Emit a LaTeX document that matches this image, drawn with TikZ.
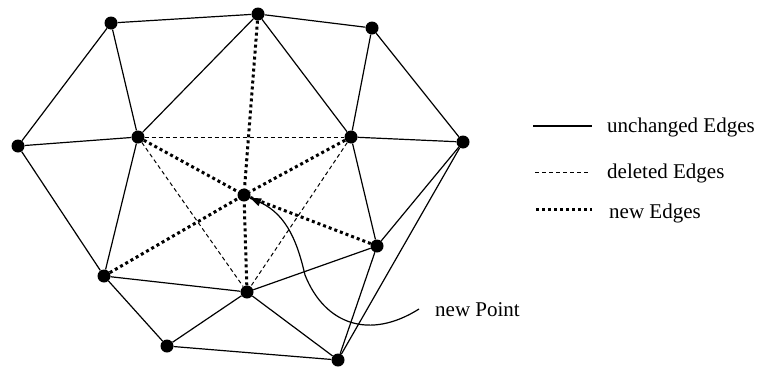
\documentclass[tikz,border=0pt]{standalone}
\usepackage{fontspec}
\setmainfont{Liberation Serif}
\usetikzlibrary{arrows.meta}
\begin{document}
\begin{tikzpicture}[x=1pt,y=-1pt,
  pt/.style={circle,fill=black,inner sep=0pt,minimum size=13pt},
  old/.style={line width=1.2pt},
  del/.style={line width=1pt,dash pattern=on 4pt off 3pt},
  new/.style={line width=3pt,dash pattern=on 3pt off 3pt},
  lbl/.style={font=\fontsize{21}{25}\selectfont,inner sep=0pt,anchor=mid west}]
\useasboundingbox (0,0) rectangle (760,367);
\node[pt] (A) at (111,23) {};
\node[pt] (B) at (258,14) {};
\node[pt] (C) at (372,28) {};
\node[pt] (D) at (18,146) {};
\node[pt] (E) at (138,137) {};
\node[pt] (F) at (351,137) {};
\node[pt] (G) at (463,142) {};
\node[pt] (P) at (244,195) {};
\node[pt] (H) at (377,246) {};
\node[pt] (I) at (104,276) {};
\node[pt] (J) at (247,292) {};
\node[pt] (K) at (167,346) {};
\node[pt] (L) at (338,360) {};
% unchanged edges
\foreach \a/\b in {A/B,B/C,A/D,A/E,D/E,E/B,D/I,E/I,B/F,C/F,C/G,F/G,F/H,G/H,G/L,H/L,H/J,I/J,I/K,K/J,K/L,J/L}
  \draw[old] (\a) -- (\b);
% deleted edges
\foreach \a/\b in {E/F,E/J,F/J}
  \draw[del] (\a) -- (\b);
% new edges
\foreach \a/\b in {B/P,E/P,F/P,I/P,J/P,H/P}
  \draw[new] (\a) -- (\b);
% legend
\coordinate (l1a) at (533,126); \coordinate (l1b) at (592,126);
\coordinate (l2a) at (535,172); \coordinate (l2b) at (589,172);
\coordinate (l3a) at (536,209); \coordinate (l3b) at (592,209);
\draw[old] (l1a) -- (l1b);
\draw[del] (l2a) -- (l2b);
\draw[new] (l3a) -- (l3b);
\node[lbl] (t1) at (607,130) {unchanged Edges};
\node[lbl] (t2) at (607,176) {deleted Edges};
\node[lbl] (t3) at (609,216) {new Edges};
% new point label and arrow
\node[lbl] (np) at (435,314.5) {new Point};
\coordinate (s) at (419,309);
\draw[line width=1.2pt,-{Triangle[length=11pt,width=8pt]}] (s) .. controls (370,340) and (325,325) .. (305,275) .. controls (298,245) and (288,215) .. (P);
\end{tikzpicture}
\end{document}
